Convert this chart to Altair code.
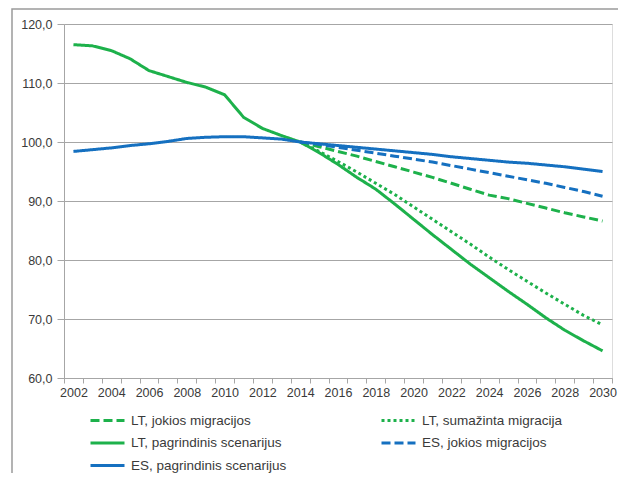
import altair as alt
import pandas as pd

years = list(range(2002, 2031))

lt_pagrindinis = [116.5, 116.3, 115.5, 114.1, 112.1, 111.1, 110.1, 109.3, 108.0, 104.2,
                  102.3, 101.1, 100.0, 98.2, 96.2, 94.0, 92.0, 89.5, 86.9, 84.3,
                  81.8, 79.3, 77.0, 74.7, 72.5, 70.2, 68.1, 66.3, 64.6]
es_pagrindinis = [98.4, 98.7, 99.0, 99.4, 99.7, 100.1, 100.6, 100.8, 100.9, 100.9,
                  100.7, 100.5, 100.0, 99.7, 99.4, 99.1, 98.8, 98.5, 98.2, 97.9,
                  97.5, 97.2, 96.9, 96.6, 96.4, 96.1, 95.8, 95.4, 95.0]
proj_years = list(range(2014, 2031))
lt_jokios = [100.0, 99.2, 98.4, 97.6, 96.7, 95.8, 94.9, 94.0, 93.0, 92.0,
             91.0, 90.4, 89.6, 88.8, 88.0, 87.3, 86.6]
lt_sumazinta = [100.0, 98.4, 96.7, 94.9, 93.0, 91.1, 89.0, 86.9, 84.8, 82.7,
                80.5, 78.4, 76.4, 74.4, 72.5, 70.6, 69.0]
es_jokios = [100.0, 99.6, 99.1, 98.6, 98.1, 97.6, 97.1, 96.6, 96.0, 95.4,
             94.8, 94.2, 93.6, 93.0, 92.3, 91.6, 90.8]

series_names = ["LT, jokios migracijos", "LT, sumažinta migracija",
                "LT, pagrindinis scenarijus", "ES, jokios migracijos",
                "ES, pagrindinis scenarijus"]
colors = ["#1DB14B", "#1DB14B", "#1DB14B", "#1570C0", "#1570C0"]
dashes = [[9, 4], [3, 3], [1, 0], [9, 4], [1, 0]]

rows = []
for name, ys, vals in [
    (series_names[0], proj_years, lt_jokios),
    (series_names[1], proj_years, lt_sumazinta),
    (series_names[2], years, lt_pagrindinis),
    (series_names[3], proj_years, es_jokios),
    (series_names[4], years, es_pagrindinis),
]:
    for y, v in zip(ys, vals):
        rows.append({"year": y, "value": v, "series": name})
df = pd.DataFrame(rows)

FONT = "Liberation Sans"
GRID = "#a6a6a6"
TXT = "#3a3a3a"

legend_kw = dict(title=None, orient="none", legendX=25, legendY=389.5,
                 columns=2, direction="horizontal",
                 symbolType="stroke", symbolSize=1156, clipHeight=14,
                 symbolStrokeWidth=3, columnPadding=93,
                 rowPadding=8.5, labelFont=FONT, labelFontSize=13.5,
                 labelColor=TXT, labelOffset=5, padding=0,
                 labelLimit=300)

lines = alt.Chart(df).mark_line(strokeWidth=3, strokeCap="butt").encode(
    x=alt.X("year:O", bandPosition=0.5,
            scale=alt.Scale(type="band", paddingInner=0, paddingOuter=0),
            axis=alt.Axis(title=None, tickBand="extent", labelAngle=0,
                          labelExpr="datum.value % 2 == 0 ? datum.label : ''",
                          domainColor=GRID, tickColor=GRID, tickSize=5,
                          labelPadding=3, labelFont=FONT, labelFontSize=12.5,
                          labelColor=TXT, grid=False)),
    y=alt.Y("value:Q", scale=alt.Scale(domain=[60, 120], nice=False, zero=False),
            axis=alt.Axis(title=None, values=[60, 70, 80, 90, 100, 110, 120],
                          labelExpr="replace(format(datum.value, '.1f'), '.', ',')",
                          grid=True, gridColor=GRID, gridWidth=1,
                          domainColor=GRID, tickColor=GRID, tickSize=7,
                          labelPadding=5, labelFont=FONT, labelFontSize=12.5,
                          labelColor=TXT)),
    color=alt.Color("series:N", sort=series_names,
                    scale=alt.Scale(domain=series_names, range=colors),
                    legend=alt.Legend(**legend_kw)),
    strokeDash=alt.StrokeDash("series:N", sort=series_names,
                              scale=alt.Scale(domain=series_names, range=dashes),
                              legend=alt.Legend(**legend_kw)),
    order=alt.Order("year:O"),
)

frame = alt.Chart(alt.Data(values=[{}])).mark_rect(
    fill="transparent", stroke="#9a9a9a", strokeWidth=1.5
).encode(
    x=alt.value(-52), x2=alt.value(700), y=alt.value(-15), y2=alt.value(600)
)

chart = alt.layer(frame, lines).properties(
    width=548, height=354,
    autosize=alt.AutoSizeParams(type="none"),
    padding={"left": 56, "top": 16, "right": 6, "bottom": 95},
).configure_view(stroke=None).configure(background="white")

chart.save("out.html", embed_options={"renderer": "svg", "actions": False})
